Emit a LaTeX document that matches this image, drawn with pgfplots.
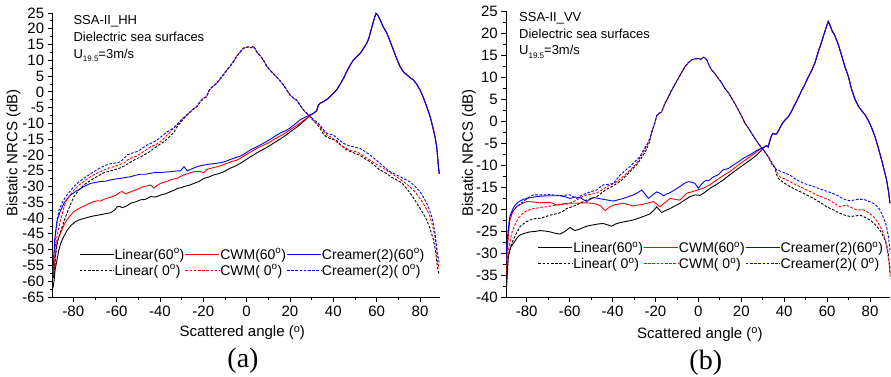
\documentclass[border=0pt]{standalone}
\usepackage{fontspec}
\setmainfont{Liberation Sans}
\newfontfamily\timesfont{Liberation Serif}
\usepackage{pgfplots}
\pgfplotsset{compat=1.18}
\pgfplotsset{
  common/.style={
    axis x line*=bottom, axis y line*=left,
    axis line style={-, line width=0.8pt},
    every outer x axis line/.append style={-},
    every outer y axis line/.append style={-},
    tick align=outside,
    major tick length=5pt, minor tick length=3pt,
    tick style={line width=0.8pt, black},
    xtick={-80,-60,...,80}, minor x tick num=1, minor y tick num=1,
    /pgf/number format/assume math mode=true,
    tick label style={font=\fontsize{15}{15}\selectfont},
    label style={font=\fontsize{15}{18}\selectfont},
    legend columns=3,
    legend cell align=left,
    legend style={draw=none, fill=none, inner sep=0pt, column sep=0pt, row sep=1pt,
      font=\fontsize{14}{16}\selectfont, anchor=north west,
      nodes={inner xsep=0.5pt, inner ysep=1.5pt}},
    xlabel={Scattered angle (\raisebox{0.3em}{\fontsize{11}{11}\selectfont o})},
    ylabel={Bistatic NRCS (dB)},
  },
  sk/.style={line width=0.9pt, draw=black, legend image code/.code={\draw[draw=black, line width=0.9pt] (0pt,0pt) -- (34pt,0pt);}},
  sr/.style={line width=0.9pt, draw=red, legend image code/.code={\draw[draw=red, line width=0.9pt] (0pt,0pt) -- (34pt,0pt);}},
  sb/.style={line width=0.9pt, draw=blue, legend image code/.code={\draw[draw=blue, line width=0.9pt] (0pt,0pt) -- (34pt,0pt);}},
  dk/.style={line width=0.9pt, draw=black, dash pattern=on 2.6pt off 1.6pt, legend image code/.code={\draw[draw=black, line width=0.9pt, dash pattern=on 2.6pt off 1.6pt] (0pt,0pt) -- (34pt,0pt);}},
  dr/.style={line width=0.9pt, draw=red, dash pattern=on 2.6pt off 1.6pt, legend image code/.code={\draw[draw=red, line width=0.9pt, dash pattern=on 2.6pt off 1.6pt] (0pt,0pt) -- (34pt,0pt);}},
  db/.style={line width=0.9pt, draw=blue, dash pattern=on 2.6pt off 1.6pt, legend image code/.code={\draw[draw=blue, line width=0.9pt, dash pattern=on 2.6pt off 1.6pt] (0pt,0pt) -- (34pt,0pt);}},
}
\begin{document}
\begin{tikzpicture}
\path[use as bounding box] (0,0) rectangle (891pt,377pt);
% ---------------- (a) HH ----------------
\begin{axis}[common,
  at={(52.7pt,80pt)}, anchor=south west, x=2.167pt, y=3.156pt,
  xmin=-89.5, xmax=89, ymin=-65, ymax=25, ytick={-65,-60,...,25},
  xlabel style={at={(axis description cs:0.49,-0.1398)}, anchor=base},
  ylabel style={at={(axis description cs:-0.1013,0.507)}, anchor=center},
  legend style={at={(axis description cs:0.068,0.176)}},
]
\addplot[sk] coordinates {(-89.3,-62) (-88.9,-60) (-88.3,-56) (-87.7,-54) (-86.8,-50.5) (-85.8,-48) (-84.5,-46) (-82.8,-43.8) (-81,-42.3) (-79,-41.1) (-77,-40.5) (-75,-40.1) (-72.5,-39.6) (-70.5,-39.3) (-68,-39) (-65.8,-38.7) (-62.8,-38.3) (-61,-37.5) (-59.7,-36.4) (-58.5,-36.3) (-57.4,-36.7) (-55.5,-36.2) (-53.5,-35.3) (-51,-34.8) (-48.9,-34.2) (-47,-34.1) (-45.8,-33.7) (-44.3,-33.2) (-42,-33.3) (-39.7,-32.7) (-37.5,-32.3) (-35.1,-31.6) (-33.5,-31.2) (-32,-30.6) (-30.5,-30.4) (-28.9,-30) (-26.5,-29.6) (-24.3,-29) (-22,-28.4) (-19.7,-27.4) (-17.5,-27.0) (-15.1,-26.3) (-12.8,-25.9) (-10.4,-25.3) (-8,-24.3) (-5.8,-23.7) (-3,-22.7) (0.3,-21.2) (2,-20.5) (4.5,-19.4) (7.7,-18.2) (10.5,-17.1) (13,-16) (15.4,-15) (18,-13.8) (20.5,-12.5) (23.1,-11.2) (25.5,-9.9) (27.5,-8.6) (29.2,-7.5)
 (30.8,-6.8) (32.3,-6.0) (33.1,-4.2) (33.9,-3.6) (35.4,-3.1) (37,-2.4) (38.5,-1.5) (40,-0.5) (41.5,0.6) (43,2.3) (44.7,4.3) (46.3,6.6) (47.8,8.5) (49.3,10.1) (50.8,11.2) (52.4,12.2) (54,13.8) (55.4,15.4) (56.3,16.8) (57,18.6) (58,21) (59,23.5) (59.7,24.9) (60.5,24.3) (61.6,22.8) (63,20.6) (64.7,18.6) (66.2,16) (67.7,13.3) (69.2,10.6) (70.8,8) (72.3,6.4) (73.9,5.4) (75.4,4.5) (76.9,3.8) (78.5,2.4) (80,0.6) (81.6,-1.9) (83.1,-4.7) (84.7,-7.9) (86.2,-12.1) (87,-14.5) (87.8,-18) (88.5,-23.7) (88.9,-26)};
\addlegendentry{Linear(60\textsuperscript{o})}
\addplot[sr] coordinates {(-89.3,-59) (-88.6,-54.3) (-88,-50) (-87.4,-47.5) (-86.6,-45.9) (-85,-43.3) (-83.5,-41.1) (-81.5,-39.3) (-79.7,-37.9) (-77.5,-37) (-75.1,-36.2) (-72.8,-35.4) (-70.5,-34.8) (-69,-34.5) (-67.4,-34.6) (-66,-34.1) (-64.3,-33.7) (-62,-33.2) (-59.7,-32.5) (-58.5,-31.8) (-57.4,-31.6) (-56.2,-32.2) (-55.1,-32.1) (-52.8,-31.5) (-50.5,-30.9) (-48.9,-30.4) (-47.4,-30) (-45.8,-29.8) (-44.3,-29.5) (-42.8,-30.5) (-41.2,-29.6) (-39.7,-29) (-37.4,-28.5) (-35.1,-27.9) (-33.5,-27.6) (-32,-27.4) (-30.5,-26.8) (-28.9,-26.3) (-26.6,-25.8) (-24.3,-25.3) (-22,-25.2) (-19.7,-25.6) (-18.1,-24.5) (-15.8,-24.1) (-13.5,-23.7) (-11.2,-23.2) (-8.9,-22.6) (-6.6,-22) (-4.3,-21.6) (-1.2,-20.3) (1.7,-19.1) (4.5,-18) (7.7,-16.9) (10.5,-16) (13,-14.9) (15.4,-14) (18,-13) (20.5,-11.8) (23.1,-10.6) (25.5,-9.5) (27.5,-8.4) (29.2,-7.5)
 (30.8,-6.8) (32.3,-6.0) (33.1,-4.2) (33.9,-3.6) (35.4,-3.1) (37,-2.4) (38.5,-1.5) (40,-0.5) (41.5,0.6) (43,2.3) (44.7,4.3) (46.3,6.6) (47.8,8.5) (49.3,10.1) (50.8,11.2) (52.4,12.2) (54,13.8) (55.4,15.4) (56.3,16.8) (57,18.6) (58,21) (59,23.5) (59.7,24.9) (60.5,24.3) (61.6,22.8) (63,20.6) (64.7,18.6) (66.2,16) (67.7,13.3) (69.2,10.6) (70.8,8) (72.3,6.4) (73.9,5.4) (75.4,4.5) (76.9,3.8) (78.5,2.4) (80,0.6) (81.6,-1.9) (83.1,-4.7) (84.7,-7.9) (86.2,-12.1) (87,-14.5) (87.8,-18) (88.5,-23.7) (88.9,-26)};
\addlegendentry{CWM(60\textsuperscript{o})}
\addplot[sb] coordinates {(-89.3,-57) (-88.6,-47) (-88,-43.5) (-87.4,-40.6) (-86,-37.8) (-84.3,-35.3) (-82.7,-33.8) (-81.2,-32.7) (-79,-31.6) (-76.6,-30.6) (-74.3,-29.7) (-72,-29) (-69.7,-28.7) (-67.4,-28.4) (-65,-28.3) (-62.8,-27.9) (-60.5,-27.6) (-58.1,-27.4) (-55.8,-27.1) (-53.5,-26.9) (-51.2,-26.4) (-48.9,-26.1) (-46.6,-26.1) (-44.3,-25.8) (-42,-25.5) (-39.7,-25.6) (-37.4,-25.4) (-35.1,-25.3) (-32.8,-25.1) (-30.5,-25) (-28.9,-23.7) (-27.4,-25) (-25,-24.3) (-22.8,-23.7) (-20.5,-23.3) (-18.1,-23) (-15.8,-22.8) (-13.5,-22.6) (-10.5,-22.2) (-7.4,-21.4) (-5,-20.8) (-2.7,-20.3) (0,-19.2) (1.9,-18.3) (4.5,-17.5) (7.7,-16.3) (10.5,-15.2) (13,-14.1) (15.4,-13.1) (18,-12.3) (20,-11.5) (22.5,-10.1) (24.6,-8.9) (27,-8) (29.2,-7.3)
 (30.8,-6.8) (32.3,-6.0) (33.1,-4.2) (33.9,-3.6) (35.4,-3.1) (37,-2.4) (38.5,-1.5) (40,-0.5) (41.5,0.6) (43,2.3) (44.7,4.3) (46.3,6.6) (47.8,8.5) (49.3,10.1) (50.8,11.2) (52.4,12.2) (54,13.8) (55.4,15.4) (56.3,16.8) (57,18.6) (58,21) (59,23.5) (59.7,24.9) (60.5,24.3) (61.6,22.8) (63,20.6) (64.7,18.6) (66.2,16) (67.7,13.3) (69.2,10.6) (70.8,8) (72.3,6.4) (73.9,5.4) (75.4,4.5) (76.9,3.8) (78.5,2.4) (80,0.6) (81.6,-1.9) (83.1,-4.7) (84.7,-7.9) (86.2,-12.1) (87,-14.5) (87.8,-18) (88.5,-23.7) (88.9,-26)};
\addlegendentry{Creamer(2)(60\textsuperscript{o})}
\addplot[dk] coordinates {(-89.3,-59) (-88.6,-56.4) (-88,-51) (-87.3,-47.5) (-86.6,-45.9) (-85,-42.5) (-83.5,-39.5) (-81.5,-36) (-79.7,-33.2) (-77.5,-31.2) (-75.1,-29.5) (-72.8,-28.4) (-70.5,-27.4) (-68,-26.4) (-65.8,-25.6) (-63.5,-25.2) (-61.2,-24.7) (-59,-24.3) (-56.6,-23.5) (-54.3,-22.6) (-52,-21.6) (-49.7,-20.9) (-47.4,-20) (-45,-19.1) (-42.8,-17.9) (-40.5,-16.8) (-38.1,-15.8) (-35.8,-14.3) (-33.5,-12.8) (-32.3,-11.2) (-30,-9.3)
 (-27.6,-7.4) (-25.3,-5.9) (-23,-4.7) (-21.5,-3.2) (-20,-2.1) (-18.5,-1.6) (-17.2,0.6) (-15.5,1.8) (-13.8,2.7) (-12.2,4.1) (-10.7,5.4) (-9.2,6.8) (-7.7,8) (-6.1,9.6) (-4.6,11.2) (-3,12.6) (-1.5,13.8) (0,14.1) (0.8,14.3) (2,14.0) (3.1,14.4) (4,13.6) (4.7,12.6) (6.2,11.5) (7.7,10.1) (9.2,8.2) (10.8,6.8) (12.3,5.8) (13.9,4.7) (15.5,3.4) (17,2.2) (18.5,0.6) (20,-1) (21.5,-1.9) (23.1,-2.7) (24.6,-4.2) (26.2,-5.7) (27.7,-6.8)
 (29.3,-7.9) (30.8,-9.1) (32.4,-10.2) (33.8,-11.5) (35.4,-13.3) (36.9,-14.3) (38.5,-14.8) (40,-15.1) (41.5,-15.4) (43.8,-17) (46.1,-18.4) (48.5,-19.1) (50.4,-19.6) (52.3,-20.1) (54.6,-21.2) (56.9,-22.1) (59,-23.3) (61,-24.5) (63.1,-25.3) (65,-26.1) (67,-27.1) (69.2,-27.9) (71.5,-28.8) (73.8,-30.6) (76.2,-32.8) (78.5,-35.3) (80.8,-37.8) (83.1,-40.6) (84.7,-43.5) (86.2,-46.9) (87.2,-50.5) (88,-55.4) (88.8,-58)};
\addlegendentry{Linear( 0\textsuperscript{o})}
\addplot[dr] coordinates {(-89.3,-57) (-88.6,-52) (-88.1,-48) (-87.3,-45) (-86.6,-42.7) (-85,-38.3) (-83.5,-34.8) (-81.5,-32.8) (-79.7,-31.1) (-77.5,-29.6) (-75.1,-28.4) (-72.8,-27.2) (-70.5,-26.3) (-68,-25.4) (-65.8,-24.7) (-63.5,-24.1) (-61.2,-23.7) (-59,-23.1) (-56.6,-22.6) (-55,-21.6) (-53.5,-21.05) (-51,-20.4) (-48.9,-19.5) (-46.6,-18.5) (-44.3,-17.4) (-42,-16.7) (-39.7,-15.8) (-37.4,-14.2) (-35.1,-12.6) (-32.3,-10.5) (-30,-8.9)
 (-27.6,-7.4) (-25.3,-5.9) (-23,-4.7) (-21.5,-3.2) (-20,-2.1) (-18.5,-1.6) (-17.2,0.6) (-15.5,1.8) (-13.8,2.7) (-12.2,4.1) (-10.7,5.4) (-9.2,6.8) (-7.7,8) (-6.1,9.6) (-4.6,11.2) (-3,12.6) (-1.5,13.8) (0,14.1) (0.8,14.3) (2,14.0) (3.1,14.4) (4,13.6) (4.7,12.6) (6.2,11.5) (7.7,10.1) (9.2,8.2) (10.8,6.8) (12.3,5.8) (13.9,4.7) (15.5,3.4) (17,2.2) (18.5,0.6) (20,-1) (21.5,-1.9) (23.1,-2.7) (24.6,-4.2) (26.2,-5.7) (27.7,-6.8)
 (29.3,-7.9) (30.8,-9) (32.4,-10) (33.8,-11) (35.4,-12.5) (36.9,-13.6) (38.5,-14.2) (40,-14.9) (42,-16.2) (44.6,-17.4) (47,-18.3) (49,-18.8) (50.8,-19) (53,-19.9) (55,-20.8) (56.9,-21.6) (59,-22.6) (61,-23.4) (63.1,-24.2) (65.5,-25.3) (67.7,-26.3) (70,-27.3) (72.3,-28.4) (74.6,-29.7) (76.9,-31.1) (79.2,-33) (81.5,-35.3) (83.1,-37.3) (84.6,-39.5) (85.8,-42.5) (86.9,-45.9) (87.6,-49.5) (88,-53.3) (88.8,-56)};
\addlegendentry{CWM( 0\textsuperscript{o})}
\addplot[db] coordinates {(-89.3,-55) (-88.6,-49) (-88,-44) (-87.3,-40) (-86.6,-37.4) (-85,-35) (-83.5,-33.2) (-81.5,-31.5) (-79.7,-30) (-77.5,-28.6) (-75.1,-27.4) (-72.8,-26.3) (-70.5,-25.3) (-68,-24.2) (-65.8,-23.5) (-63.5,-22.9) (-61.2,-22.6) (-59.5,-22.4) (-58.1,-22.1) (-56.6,-21) (-55.1,-20) (-52.8,-19.4) (-50.5,-18.9) (-48,-17.8) (-45.8,-16.8) (-43.5,-16.1) (-41.2,-15.2) (-38.9,-13.9) (-36.6,-12.6) (-34,-11.6) (-32.3,-10.5) (-30,-8.7)
 (-27.6,-7.3) (-25.3,-5.8) (-23,-4.6) (-21.5,-3.1) (-20,-2.0) (-18.5,-1.5) (-17.2,0.7) (-15.5,1.9) (-13.8,2.8) (-12.2,4.2) (-10.7,5.5) (-9.2,6.9) (-7.7,8.1) (-6.1,9.7) (-4.6,11.3) (-3,12.7) (-1.5,13.9) (0,14.1) (0.8,14.3) (2,14.0) (3.1,14.4) (4,13.6) (4.7,12.6) (6.2,11.5) (7.7,10.1) (9.2,8.2) (10.8,6.8) (12.3,5.8) (13.9,4.7) (15.5,3.4) (17,2.2) (18.5,0.6) (20,-1) (21.5,-1.9) (23.1,-2.7) (24.6,-4.2) (26.2,-5.7) (27.7,-6.8)
 (29.3,-7.6) (30.8,-8.8) (32.4,-9.5) (33.8,-10.5) (35.4,-12) (36.9,-13.1) (38.5,-13.4) (40,-13.7) (42.3,-15) (44.6,-16.3) (47,-17) (49.2,-17.4) (52.3,-17.9) (54.6,-18.9) (56.9,-20) (59.2,-21.3) (61.5,-22.6) (63.8,-24) (66.1,-25.3) (68.5,-26.1) (70.8,-26.9) (73.1,-27.7) (75.4,-28.5) (77.7,-29.9) (80,-31.6) (81.5,-33.3) (83.1,-35.3) (84.3,-37.3) (85.4,-39.5) (86.2,-42) (86.9,-44.8) (87.5,-48) (88,-51.2) (88.8,-54)};
\addlegendentry{Creamer(2)( 0\textsuperscript{o})}
\end{axis}
% ---------------- (b) VV ----------------
\begin{axis}[common,
  at={(506.3pt,80pt)}, anchor=south west, x=2.146pt, y=4.4pt,
  xmin=-89.5, xmax=89.5, ymin=-40, ymax=25, ytick={-40,-35,...,25},
  xlabel style={at={(axis description cs:0.504,-0.1444)}, anchor=base},
  ylabel style={at={(axis description cs:-0.0971,0.503)}, anchor=center},
  legend style={at={(axis description cs:0.0817,0.199)}},
]
\addplot[sk] coordinates {(-89.4,-38) (-89,-34.5) (-88.6,-30.8) (-87.5,-28.7) (-86.2,-27.8) (-84.5,-26.6) (-83.1,-25.9) (-80.8,-25.5) (-78.5,-25.2) (-76,-25.1) (-73.8,-24.9) (-71.5,-25) (-69.1,-25.2) (-66.8,-25.5) (-64.5,-25.7) (-62.2,-25.1) (-59.8,-24.2) (-58.6,-24.6) (-57.5,-24.9) (-55.5,-24.6) (-53.6,-24.2) (-51.3,-23.8) (-48.9,-23.6) (-46.6,-23.4) (-44.3,-23.3) (-42.3,-23.6) (-40.4,-23.9) (-38.5,-23.4) (-36.5,-23.1) (-33.4,-22.8) (-30.3,-22.5) (-28,-22.1) (-25.6,-21.7) (-22.5,-21.1) (-20.8,-20.3) (-19.4,-19.5) (-17.1,-20.8) (-15.1,-20.3) (-13.2,-19.9) (-10.9,-19.3) (-8.6,-18.7) (-6.2,-17.9) (-3.9,-17.2) (-1.6,-16.8) (0.8,-16.9) (3,-16.2) (5.4,-15.3) (8.5,-14.4) (11.6,-13.4) (14.7,-12.2) (17.8,-11.1) (20.9,-10) (24.1,-8.9) (26.8,-7.9) (29.5,-6.6)
 (31,-5.8) (31.8,-5.6) (32.5,-5.9) (33.4,-4.3) (34.2,-3.2) (34.9,-2.8) (35.7,-3.0) (36.5,-2.9) (37.3,-2.2) (38.8,-0.8) (40.5,0.3) (42,1.0) (43.5,2.3) (45,3.8) (46.6,5.3) (48,6.8) (49.6,8.3) (51.2,10) (52.8,11.5) (54.3,13.2) (55.9,15.8) (57.2,17.6) (58.2,19.2) (59.5,21.2) (60.5,22.6) (61.3,21.8) (62.3,20.5) (63.5,19.5) (65.2,17.4) (66.8,14.8) (68.3,12.3) (69.9,10.1) (71.4,7.2) (73,4.9) (74.5,3.4) (76,2.4) (77.7,1.4) (79.2,0.1) (80.8,-1.6) (82.3,-3.6) (83.8,-6) (85.4,-8.9) (86.5,-11) (87.7,-13.4) (88.6,-16) (89.3,-18.7)};
\addlegendentry{Linear(60\textsuperscript{o})}
\addplot[sr] coordinates {(-89.4,-32) (-89,-29.3) (-88.4,-25) (-87.8,-22.5) (-86.5,-20.6) (-84.7,-19.5) (-82.3,-18.8) (-80,-18.3) (-76.9,-18.4) (-73.8,-18.6) (-71.5,-18.5) (-69.1,-18.5) (-67.5,-18.8) (-66,-19.1) (-63.7,-18.9) (-61.4,-18.7) (-59,-18.7) (-56.7,-18.7) (-54.4,-18.6) (-52,-18.6) (-49.7,-18.7) (-47.4,-18.9) (-45.5,-19.3) (-43.5,-20.4) (-41.5,-19.6) (-39.6,-19.1) (-37.3,-18.9) (-35,-18.7) (-32.6,-19) (-30.3,-19.3) (-28,-19.1) (-25.6,-18.9) (-23.3,-18.6) (-21,-18.3) (-19.4,-18.9) (-17.9,-19.5) (-15.5,-18.5) (-13.2,-17.6) (-10.9,-17.8) (-8.6,-18) (-7,-17.2) (-5.4,-16.4) (-2.3,-16) (0.8,-15.5) (3,-15.1) (5.4,-14.5) (8.5,-13.4) (11.6,-12.4) (14.7,-11.5) (17.8,-10.3) (20.9,-9.2) (24.1,-8.1) (27.2,-7) (29.2,-6.3)
 (31,-5.8) (31.8,-5.6) (32.5,-5.9) (33.4,-4.3) (34.2,-3.2) (34.9,-2.8) (35.7,-3.0) (36.5,-2.9) (37.3,-2.2) (38.8,-0.8) (40.5,0.3) (42,1.0) (43.5,2.3) (45,3.8) (46.6,5.3) (48,6.8) (49.6,8.3) (51.2,10) (52.8,11.5) (54.3,13.2) (55.9,15.8) (57.2,17.6) (58.2,19.2) (59.5,21.2) (60.5,22.6) (61.3,21.8) (62.3,20.5) (63.5,19.5) (65.2,17.4) (66.8,14.8) (68.3,12.3) (69.9,10.1) (71.4,7.2) (73,4.9) (74.5,3.4) (76,2.4) (77.7,1.4) (79.2,0.1) (80.8,-1.6) (82.3,-3.6) (83.8,-6) (85.4,-8.9) (86.5,-11) (87.7,-13.4) (88.6,-16) (89.3,-18.7)};
\addlegendentry{CWM(60\textsuperscript{o})}
\addplot[sb] coordinates {(-89.4,-30) (-89,-27) (-88.4,-24) (-87.8,-21.7) (-86.6,-20.1) (-85.4,-19.1) (-83.5,-18.3) (-81.6,-17.8) (-79,-17.5) (-76.9,-17.3) (-73.8,-17.1) (-70.7,-17) (-67.6,-17) (-64.5,-17) (-62.2,-17.2) (-59.8,-17.6) (-57.5,-17.3) (-55.2,-17.4) (-53.5,-17.9) (-52,-18.3) (-50.5,-17.8) (-48.9,-17.4) (-46.6,-17.6) (-44.3,-17.8) (-42,-18) (-39.6,-18.2) (-37.3,-17.9) (-35,-17.6) (-32.6,-17.2) (-30.3,-16.8) (-28.3,-16.3) (-26.4,-15.7) (-24.8,-16.6) (-23.3,-17.6) (-21.3,-16.8) (-19.4,-16.1) (-17.9,-16.4) (-16.3,-17) (-14.8,-16.6) (-13.2,-16.3) (-10.9,-15.6) (-8.6,-14.9) (-6.6,-14.2) (-4.7,-13.8) (-3.1,-13.9) (-1.6,-14.2) (0,-15.3) (1.2,-14.5) (3,-13.6) (5,-13.5) (7,-12.7) (9.3,-12.2) (11.6,-11.1) (14,-10.8) (16.3,-10) (18.6,-9.3) (20.9,-8.5) (23.2,-7.9) (25.6,-7.2) (27.5,-6.6) (29.5,-6.2)
 (31,-5.8) (31.8,-5.6) (32.5,-5.9) (33.4,-4.3) (34.2,-3.2) (34.9,-2.8) (35.7,-3.0) (36.5,-2.9) (37.3,-2.2) (38.8,-0.8) (40.5,0.3) (42,1.0) (43.5,2.3) (45,3.8) (46.6,5.3) (48,6.8) (49.6,8.3) (51.2,10) (52.8,11.5) (54.3,13.2) (55.9,15.8) (57.2,17.6) (58.2,19.2) (59.5,21.2) (60.5,22.6) (61.3,21.8) (62.3,20.5) (63.5,19.5) (65.2,17.4) (66.8,14.8) (68.3,12.3) (69.9,10.1) (71.4,7.2) (73,4.9) (74.5,3.4) (76,2.4) (77.7,1.4) (79.2,0.1) (80.8,-1.6) (82.3,-3.6) (83.8,-6) (85.4,-8.9) (86.5,-11) (87.7,-13.4) (88.6,-16) (89.3,-18.7)};
\addlegendentry{Creamer(2)(60\textsuperscript{o})}
\addplot[dk] coordinates {(-89.4,-37) (-89.3,-34.6) (-88.4,-30.5) (-87,-27.8) (-85,-25.7) (-83.1,-24) (-80.8,-23.1) (-78.5,-22.5) (-76.1,-22.2) (-73.8,-22.1) (-71.5,-21.8) (-69.1,-21.4) (-67.2,-21.2) (-65.3,-21) (-63.4,-20.6) (-61.4,-19.9) (-59,-19.5) (-56.7,-19.1) (-54.4,-18.5) (-52.05,-17.96) (-49.7,-17.6) (-47.4,-17.2) (-45,-16.3) (-42.7,-15.5) (-40.3,-14.9) (-38,-14.2) (-35.7,-13.4) (-33.4,-12.3) (-31.1,-11.1) (-28.8,-10) (-26,-8) (-24.1,-6.4) (-22.8,-4.8) (-21.8,-2.7)
 (-20.5,-0.8) (-19.4,1.2) (-18.2,1.7) (-17.1,2.1) (-15.5,4) (-14,5.4) (-12.4,7.0) (-10.9,8.3) (-9.3,9.7) (-7.8,11.0) (-6.2,12.3) (-4.7,13.2) (-3.1,13.9) (-1.5,14.1) (0,14.2) (1.2,14.0) (2.3,14.5) (3.1,14.3) (3.9,13.9) (5,12.6) (6.2,11.6) (7.8,10.7) (9.3,9.7) (10.9,8.6) (12.4,7.4) (14,6.4) (15.5,5.2) (17.1,3.9) (18.6,2.5) (20.2,1.1) (21.7,-0.5) (23.3,-1.6) (24.8,-2.8) (26.4,-4) (27.9,-5.1) (29.5,-6.1) (31,-7) (32.6,-8.2)
 (34.2,-9.8) (35.7,-10.6) (36.5,-12.3) (37.2,-13.0) (38,-13.4) (40.3,-14.2) (42.7,-14.9) (45.8,-15.7) (48.9,-16.4) (52,-17.2) (55.1,-18) (57.4,-18.7) (59.8,-19.5) (62.9,-20.2) (66,-21) (68.3,-21.4) (70.7,-21.7) (73,-21.6) (75.3,-21.4) (77.7,-21.9) (80,-22.5) (82.3,-23.5) (84.6,-24.8) (86.5,-26.5) (87.7,-28) (88.5,-30.1) (89.1,-33) (89.5,-36)};
\addlegendentry{Linear( 0\textsuperscript{o})}
\addplot[dr] coordinates {(-89.4,-35) (-89.3,-32.3) (-88.2,-28.5) (-87,-25.5) (-85.5,-23.6) (-83.9,-22.1) (-82,-21.1) (-80,-20.4) (-77.6,-20) (-75.3,-19.8) (-73,-19.6) (-70.7,-19.5) (-68.3,-19.3) (-66,-19.1) (-63.7,-19) (-61.4,-18.9) (-59,-18.5) (-56.7,-17.96) (-54.4,-17.3) (-52.05,-16.8) (-49.7,-16.6) (-47.4,-16.4) (-45,-15.7) (-42.7,-14.9) (-40.3,-14.4) (-38,-13.8) (-35.7,-12.9) (-33.4,-11.9) (-31.1,-10.8) (-28.8,-9.6) (-26.5,-7.8) (-24.1,-5.8) (-22.8,-4.4) (-21.8,-2.6)
 (-20.5,-0.8) (-19.4,1.2) (-18.2,1.7) (-17.1,2.1) (-15.5,4) (-14,5.4) (-12.4,7.0) (-10.9,8.3) (-9.3,9.7) (-7.8,11.0) (-6.2,12.3) (-4.7,13.2) (-3.1,13.9) (-1.5,14.1) (0,14.2) (1.2,14.0) (2.3,14.5) (3.1,14.3) (3.9,13.9) (5,12.6) (6.2,11.6) (7.8,10.7) (9.3,9.7) (10.9,8.6) (12.4,7.4) (14,6.4) (15.5,5.2) (17.1,3.9) (18.6,2.5) (20.2,1.1) (21.7,-0.5) (23.3,-1.6) (24.8,-2.8) (26.4,-4) (27.9,-5.1) (29.5,-6.1) (31,-7) (32.6,-8.2)
 (34.2,-9.6) (35,-10) (36.5,-11.6) (38,-12.7) (40.3,-13.2) (42.7,-13.8) (45.8,-14.6) (48.9,-15.3) (52,-16) (55.1,-16.8) (58.2,-17.4) (61.3,-18) (63.6,-18.8) (66,-19.5) (67.5,-19.3) (69.1,-19.1) (71.4,-19.7) (73.8,-20.2) (76.9,-20.2) (79.2,-20.8) (81.5,-21.7) (83.1,-22.7) (84.6,-23.8) (86.2,-25.5) (87.3,-27.5) (88.2,-30) (88.9,-32.5) (89.5,-35)};
\addlegendentry{CWM( 0\textsuperscript{o})}
\addplot[db] coordinates {(-89.4,-32) (-89.3,-28.6) (-88.6,-24.5) (-87.8,-21.7) (-86.3,-20.4) (-84.7,-19.5) (-83.1,-18.9) (-81.6,-18.3) (-79.2,-17.4) (-76.9,-16.8) (-74.5,-16.8) (-72.2,-16.8) (-69.9,-16.7) (-67.6,-16.8) (-65.3,-16.9) (-62.9,-17) (-61.4,-16.8) (-59.8,-16.8) (-58.3,-17.2) (-56.7,-17.6) (-54.4,-16.9) (-52.05,-16.4) (-49.7,-16) (-47.4,-15.7) (-45.8,-15) (-44.3,-14.5) (-42,-14.4) (-39.6,-14.2) (-38,-13.2) (-36.5,-12.3) (-34.2,-11.3) (-31.9,-10.4) (-29.5,-9.2) (-27.2,-8.1) (-25.5,-6.5) (-24.1,-5.5) (-22.5,-3.9) (-21.8,-2.6)
 (-20.5,-0.7) (-19.4,1.3) (-18.2,1.8) (-17.1,2.2) (-15.5,4.1) (-14,5.5) (-12.4,7.1) (-10.9,8.4) (-9.3,9.8) (-7.8,11.1) (-6.2,12.4) (-4.7,13.3) (-3.1,13.9) (-1.5,14.1) (0,14.2) (1.2,14.0) (2.3,14.5) (3.1,14.3) (3.9,13.9) (5,12.6) (6.2,11.6) (7.8,10.7) (9.3,9.7) (10.9,8.6) (12.4,7.4) (14,6.4) (15.5,5.2) (17.1,3.9) (18.6,2.5) (20.2,1.1) (21.7,-0.5) (23.3,-1.6) (24.8,-2.8) (26.4,-4) (27.9,-5.1) (29.5,-6.1) (31,-7) (32.6,-8.1)
 (34.2,-9.4) (35.4,-10.5) (36.5,-11.1) (37.7,-11.3) (38.8,-11.5) (40.7,-11.9) (42.7,-12.3) (45,-13.1) (47.4,-13.8) (50.5,-14.4) (53.6,-14.9) (55.9,-15.3) (58.2,-15.7) (61.3,-16.2) (64.4,-16.8) (66.7,-17.5) (69.1,-18) (70.7,-18.1) (72.2,-18) (74.5,-17.8) (76.9,-17.8) (79.2,-18.2) (81.5,-18.7) (83.1,-19.3) (84.6,-20.2) (85.8,-21.5) (86.9,-22.8) (87.7,-24) (88.6,-26.5) (89.3,-29.3) (89.5,-30)};
\addlegendentry{Creamer(2)( 0\textsuperscript{o})}
\end{axis}
% annotations
\begin{scope}[every node/.style={anchor=base west, inner sep=0pt, font=\fontsize{13}{13}\selectfont}]
\node at (73.3pt,352pt) {SSA-II\_HH};
\node at (73.3pt,335.3pt) {Dielectric sea surfaces};
\node at (73.3pt,318.7pt) {U\raisebox{-3.5pt}{\fontsize{8}{8}\selectfont 19.5}=3m/s};
\node at (519pt,355.3pt) {SSA-II\_VV};
\node at (519pt,338.7pt) {Dielectric sea surfaces};
\node at (519pt,322pt) {U\raisebox{-3.5pt}{\fontsize{8}{8}\selectfont 19.5}=3m/s};
\end{scope}
\node[anchor=base, inner sep=0pt, font=\timesfont\fontsize{28}{28}\selectfont] at (243pt,9.4pt) {(a)};
\node[anchor=base, inner sep=0pt, font=\timesfont\fontsize{28}{28}\selectfont] at (705.8pt,7pt) {(b)};
\end{tikzpicture}
\end{document}
